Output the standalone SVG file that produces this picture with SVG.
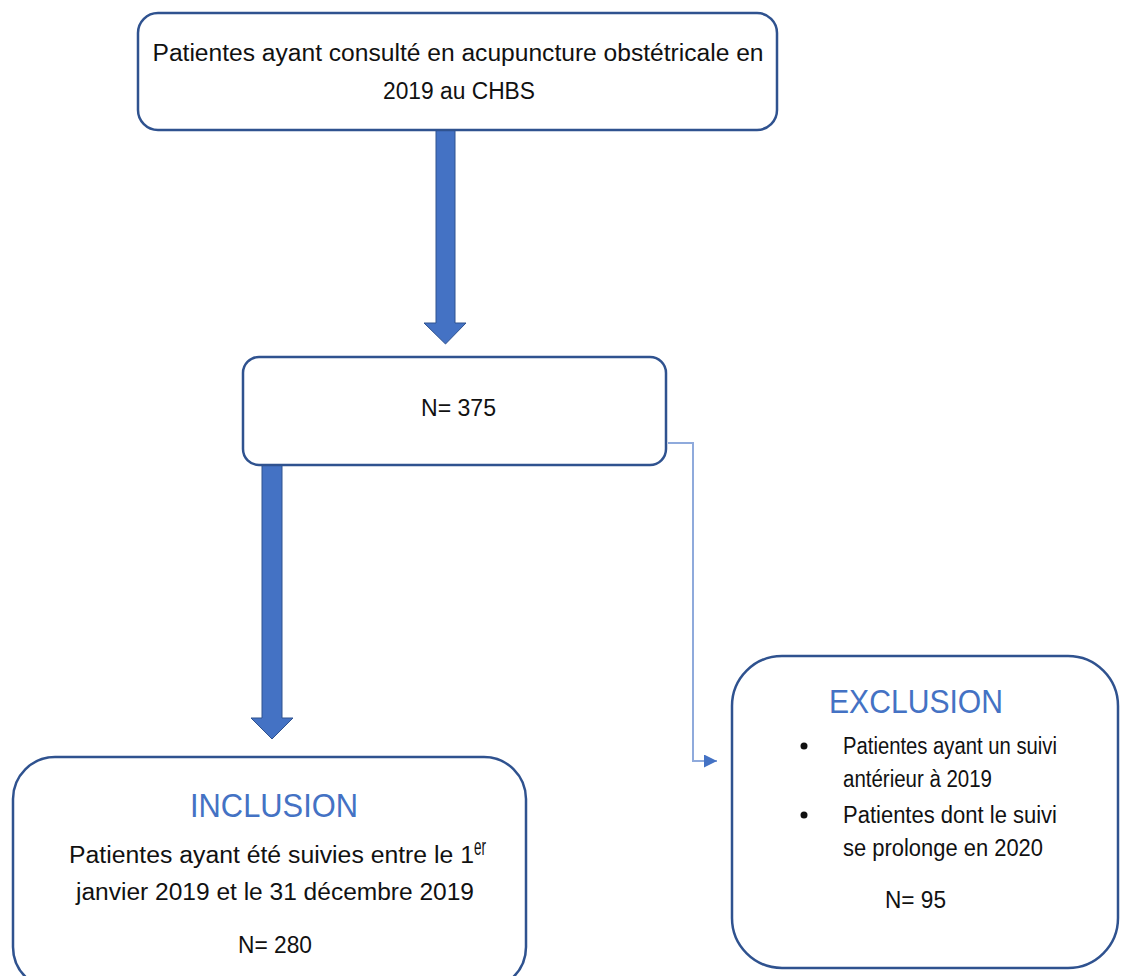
<svg xmlns="http://www.w3.org/2000/svg" width="1121" height="976" viewBox="0 0 1121 976">
<defs>
<style>
.box{fill:#fff;stroke:#2F528F;stroke-width:2.5}
.t{font-family:"Liberation Sans",Arial,sans-serif;fill:#111;font-size:23px}
.h{font-family:"Liberation Sans",Arial,sans-serif;fill:#4472C4;font-size:33px}
.fat{fill:#4472C4;stroke:#2F528F;stroke-width:1}
.thin{fill:none;stroke:#8FAADC;stroke-width:2}
</style>
<marker id="ah" viewBox="0 0 10 10" refX="10" refY="5" markerWidth="13" markerHeight="13" markerUnits="userSpaceOnUse" orient="auto">
<path d="M0,0 L10,5 L0,10 Z" fill="#4472C4"/>
</marker>
</defs>
<rect width="1121" height="976" fill="#fff"/>
<g id="connectors">
<path class="fat" d="M436,130 H455 V323 H466 L445.5,344 L424,323 H436 Z"/>
<path class="fat" d="M262,465 H282 V718 H293 L272,739 L251,718 H262 Z"/>
<path class="thin" d="M668,443 H693 V761 H717" marker-end="url(#ah)"/>
</g>
<g id="node-source">
<rect class="box" x="138" y="13" width="639" height="117" rx="20"/>
<text class="t" x="458" y="61" text-anchor="middle" textLength="611" lengthAdjust="spacingAndGlyphs">Patientes ayant consulté en acupuncture obstétricale en</text>
<text class="t" x="459" y="99" text-anchor="middle" textLength="152" lengthAdjust="spacingAndGlyphs">2019 au CHBS</text>
</g>
<g id="node-total">
<rect class="box" x="243" y="357" width="423" height="108" rx="16"/>
<text class="t" x="421" y="416" textLength="75" lengthAdjust="spacingAndGlyphs">N= 375</text>
</g>
<g id="node-inclusion">
<rect class="box" x="13" y="757" width="513" height="232" rx="42"/>
<text class="h" x="190" y="817" textLength="168" lengthAdjust="spacingAndGlyphs">INCLUSION</text>
<text class="t" x="69" y="863" textLength="405" lengthAdjust="spacingAndGlyphs">Patientes ayant été suivies entre le 1</text>
<text class="t" x="474" y="855" font-size="14" textLength="12" lengthAdjust="spacingAndGlyphs">er</text>
<text class="t" x="76" y="900" textLength="398" lengthAdjust="spacingAndGlyphs">janvier 2019 et le 31 décembre 2019</text>
<text class="t" x="238" y="953" textLength="74" lengthAdjust="spacingAndGlyphs">N= 280</text>
</g>
<g id="node-exclusion">
<rect class="box" x="732" y="656" width="386" height="312" rx="50"/>
<text class="h" x="829" y="713" textLength="174" lengthAdjust="spacingAndGlyphs">EXCLUSION</text>
<circle cx="804" cy="746" r="3.5" fill="#111"/>
<circle cx="804" cy="815" r="3.5" fill="#111"/>
<text class="t" x="843" y="754" font-size="21" textLength="214" lengthAdjust="spacingAndGlyphs">Patientes ayant un suivi</text>
<text class="t" x="843" y="787" font-size="21" textLength="149" lengthAdjust="spacingAndGlyphs">antérieur à 2019</text>
<text class="t" x="843" y="823" font-size="21" textLength="214" lengthAdjust="spacingAndGlyphs">Patientes dont le suivi</text>
<text class="t" x="843" y="856" font-size="21" textLength="200" lengthAdjust="spacingAndGlyphs">se prolonge en 2020</text>
<text class="t" x="885" y="908" textLength="61" lengthAdjust="spacingAndGlyphs">N= 95</text>
</g>
</svg>
